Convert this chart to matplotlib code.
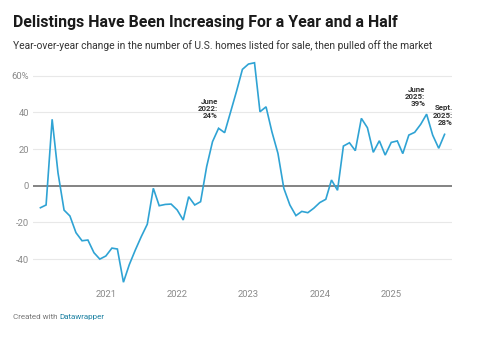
import matplotlib
matplotlib.use("Agg")
import matplotlib.pyplot as plt
import pandas as pd

# Monthly year-over-year change in delistings, Jan 2020 - Sep 2025 (%)
months = pd.date_range("2020-01-31", "2025-09-30", freq="ME")
yoy_change = [
    -12.0, -10.5, 36.2, 7.0, -13.3, -16.5, -25.6, -30.0, -29.6, -36.5, -40.0, -38.3,
    -34.0, -34.5, -52.6, -43.0, -35.0, -27.8, -21.0, -1.4, -10.9, -10.2, -10.0, -13.2,
    -18.7, -6.0, -10.5, -8.7, 10.4, 24.0, 31.3, 28.9, 40.0, 51.5, 63.4, 66.3,
    67.0, 40.3, 43.0, 29.4, 17.6, -1.4, -10.5, -16.3, -14.0, -14.7, -12.3, -9.2,
    -7.4, 3.1, -2.5, 21.6, 23.4, 19.1, 36.7, 31.6, 18.2, 24.5, 16.7, 23.6,
    24.4, 17.5, 27.6, 29.1, 33.5, 39.0, 27.6, 20.4, 28.0,
]
year_ticks = ["2021", "2022", "2023", "2024", "2025"]
y_ticks = [-40, -20, 0, 20, 40, 60]
y_labels = ["-40", "-20", "0", "20", "40", "60%"]
callouts = [
    ("2022-06-30", "June\n2022:\n24%", (4, 16)),
    ("2025-06-30", "June\n2025:\n39%", (-1, 5)),
    ("2025-09-30", "Sept.\n2025:\n28%", (6, 6)),
]

LINE = "#2fa3d4"
GRID = "#e8e8e8"
TICK = "#8a8a8a"

plt.rcParams["font.family"] = ["Roboto", "DejaVu Sans"]

W, H = 500, 341
fig = plt.figure(figsize=(W / 100, H / 100), dpi=100)
fig.patch.set_facecolor("white")

left, right, top, bottom = 33, 452, 59.1, 284.8
ax = fig.add_axes([left / W, 1 - bottom / H, (right - left) / W, (bottom - top) / H])

ax.plot(months, yoy_change, color=LINE, lw=1.2, solid_joinstyle="miter", zorder=3)

ax.set_ylim(-54, 69)
ax.set_xlim(pd.Timestamp("2019-12-24"), pd.Timestamp("2025-11-07"))

ax.set_yticks(y_ticks)
ax.set_yticklabels(y_labels)
for v in y_ticks:
    if v == 0:
        ax.axhline(0, color="#7a7a7a", lw=1.3, zorder=2)
    else:
        ax.axhline(v, color=GRID, lw=0.8, zorder=1)

ax.set_xticks([pd.Timestamp(f"{y}-01-01") for y in year_ticks])
ax.set_xticklabels(year_ticks)
ax.tick_params(axis="both", length=0, labelsize=6.8, labelcolor=TICK)
ax.tick_params(axis="y", pad=3)
ax.tick_params(axis="x", pad=4)
for s in ax.spines.values():
    s.set_visible(False)
ax.patch.set_alpha(0)

for date, label, (dx, dy) in callouts:
    d = pd.Timestamp(date)
    val = yoy_change[list(months).index(d)]
    ax.annotate(label, xy=(d, val), xytext=(dx, dy), textcoords="offset points",
                ha="right", va="bottom", fontsize=5.7, fontweight="bold",
                color="#333333", linespacing=1.05, zorder=4)

fig.text(13 / W, 1 - 27.5 / H, "Delistings Have Been Increasing For a Year and a Half",
         fontsize=11.4, fontweight="bold", color="#1a1a1a", va="baseline")
fig.text(13 / W, 1 - 49 / H,
         "Year-over-year change in the number of U.S. homes listed for sale, then pulled off the market",
         fontsize=7.4, color="#333333", va="baseline")

# footer credit in two colours
renderer = fig.canvas.get_renderer()
credit = fig.text(13 / W, 1 - 319 / H, "Created with ", fontsize=5.8,
                  color="#777777", va="baseline")
bb = credit.get_window_extent(renderer)
fig.text(bb.x1 / W, 1 - 319 / H, "Datawrapper", fontsize=5.8,
         color="#1d81a2", va="baseline")

fig.savefig("out.png", dpi=100)
